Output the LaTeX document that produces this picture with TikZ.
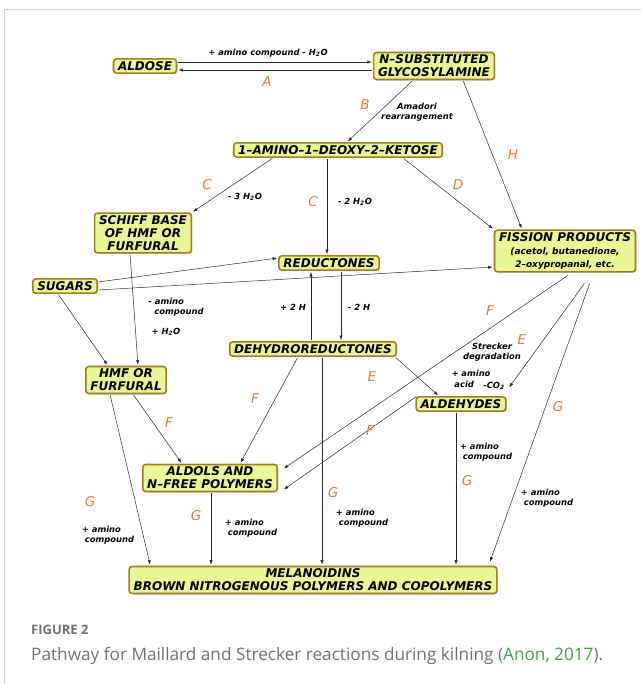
\documentclass[tikz,border=0pt]{standalone}
\usepackage{fontspec}
\usepackage{xcolor}
\usepackage{tikz}
\usetikzlibrary{arrows.meta,shadows}
\setmainfont{Open Sans}
\newfontfamily\dvs{DejaVu Sans}[BoldFont={DejaVu Sans Bold},ItalicFont={DejaVu Sans Oblique},BoldItalicFont={DejaVu Sans Bold Oblique}]
\definecolor{boxfill}{RGB}{234,246,150}
\definecolor{boxline}{RGB}{160,125,35}
\definecolor{stageorange}{RGB}{240,118,45}
\definecolor{capgray}{RGB}{112,112,112}
\definecolor{capgreen}{RGB}{60,165,60}
\newcommand\fisfont{\fontsize{9}{10.5}\selectfont}

\begin{document}
\begin{tikzpicture}[x=1pt,y=-1pt,
  box/.style={draw=boxline,fill=boxfill,line width=1.6pt,rounded corners=3pt,inner xsep=4.5pt,inner ysep=2.6pt,align=center,
    font=\dvs\bfseries\itshape\fontsize{12}{12.8}\selectfont,
    drop shadow={opacity=0.25,shadow xshift=1pt,shadow yshift=-1pt}},
  arr/.style={-{Latex[length=4.5pt,width=3.2pt]},line width=0.5pt,draw=black!85,shorten >=1pt,shorten <=1pt},
  lbl/.style={font=\dvs\bfseries\itshape\fontsize{8.4}{10.5}\selectfont,align=left,inner sep=0pt},
  stage/.style={text=stageorange,font=\dvs\itshape\fontsize{13.5}{14}\selectfont,inner sep=0pt}]
  \useasboundingbox (0,0) rectangle (641,684);
  \draw[black!20,line width=1pt] (4,684) -- (4,10) -- (641,10);

  \node[box] (ald) at (145,66) {ALDOSE};
  \node[box] (gly) at (434,66) {N–SUBSTITUTED\\GLYCOSYLAMINE};
  \node[box] (amk) at (338,150) {1–AMINO–1–DEOXY–2–KETOSE};
  \node[box] (sch) at (143,233) {SCHIFF BASE\\OF HMF OR\\FURFURAL};
  \node[box] (red) at (329,263) {REDUCTONES};
  \node[box] (fis) at (565,251) {FISSION PRODUCTS\\\fisfont (acetol, butanedione,\\\fisfont 2–oxypropanal, etc.};
  \node[box] (sug) at (65,286) {SUGARS};
  \node[box] (dhr) at (313,349) {DEHYDROREDUCTONES};
  \node[box] (hmf) at (126,380) {HMF OR\\FURFURAL};
  \node[box] (alh) at (461,404) {ALDEHYDES};
  \node[box] (aln) at (210,478) {ALDOLS AND\\N–FREE POLYMERS};
  \node[box] (mel) at (313,580) {MELANOIDINS\\BROWN NITROGENOUS POLYMERS AND COPOLYMERS};

  \draw[arr] ([yshift=4pt]ald.east) -- ([yshift=4pt]gly.west);
  \draw[arr] ([yshift=-4pt]gly.west) -- ([yshift=-4pt]ald.east);
  \draw[arr] ([xshift=-21pt]gly.south) -- ([xshift=9pt]amk.north);
  \draw[arr] ([xshift=29pt]gly.south) -- ([xshift=-43pt]fis.north);
  \draw[arr] ([xshift=-65pt]amk.south) -- (sch.north east);
  \draw[arr] ([xshift=-11pt]amk.south) -- ([xshift=-2pt]red.north);
  \draw[arr] ([xshift=65pt]amk.south) -- (fis.north west);
  \draw[arr] ([yshift=4pt]sug.east) -- ([yshift=5pt]red.west);
  \draw[arr] ([yshift=-4pt]sug.east) -- ([yshift=-16pt]fis.west);
  \draw[arr] ([xshift=-13pt]sch.south) -- ([xshift=12pt]hmf.north);
  \draw[arr] ([xshift=-7pt]sug.south) -- ([xshift=-18pt]hmf.north);
  \draw[arr] ([xshift=-2pt]dhr.north) -- ([xshift=-18pt]red.south);
  \draw[arr] ([xshift=12pt]red.south) -- ([xshift=28pt]dhr.north);
  \draw[arr] ([xshift=-15pt]dhr.south) -- ([xshift=30pt]aln.north);
  \draw[arr] ([xshift=9pt]dhr.south) -- ([xshift=9pt]mel.north);
  \draw[arr] ([xshift=-2pt]dhr.south east) -- ([xshift=-22pt]alh.north);
  \draw[arr] ([xshift=4pt,yshift=-2pt]fis.south) -- ([xshift=5pt,yshift=9pt]aln.east);
  \draw[arr] ([xshift=20pt,yshift=-10pt]fis.south) -- ([xshift=2pt,yshift=8pt]alh.north east);
  \draw[arr] ([xshift=25pt,yshift=-10pt]fis.south) -- ([xshift=-8pt,yshift=3pt]mel.north east);
  \draw[arr] ([xshift=-44pt]alh.north) -- ([xshift=5pt,yshift=-12pt]aln.east);
  \draw[arr] ([xshift=-5pt]alh.south) -- ([xshift=143pt]mel.north);
  \draw[arr] ([xshift=7pt]hmf.south) -- ([xshift=-28pt]aln.north);
  \draw[arr] ([xshift=-16pt]hmf.south) -- ([xshift=22pt]mel.north west);
  \draw[arr] ([xshift=1pt]aln.south) -- ([xshift=-102pt]mel.north);

  \node[lbl] (tA) at (268,53) {+ amino compound - H\textsubscript{2}O};
  \node[lbl,align=center] (tB) at (417,112) {Amadori\\rearrangement};
  \node[lbl] (tC1) at (245,197) {- 3 H\textsubscript{2}O};
  \node[lbl] (tC2) at (355,202) {- 2 H\textsubscript{2}O};
  \node[lbl] (tS) at (176,307) {- amino\\\ \ compound};
  \node[lbl] (tW) at (166,332) {+ H\textsubscript{2}O};
  \node[lbl] (tP) at (293,307) {+ 2 H};
  \node[lbl] (tM) at (359,307) {- 2 H};
  \node[lbl,align=center] (tSD) at (492,352) {Strecker\\degradation};
  \node[lbl] (tAA) at (471,379) {+ amino\\\ acid};
  \node[lbl] (tCO) at (494,386) {-CO\textsubscript{2}};
  \node[lbl] (tG1) at (108,535) {+ amino\\\ compound};
  \node[lbl] (tG2) at (251,528) {+ amino\\\ compound};
  \node[lbl] (tG3) at (362,518) {+ amino\\\ compound};
  \node[lbl] (tG4) at (486,452) {+ amino\\\ compound};
  \node[lbl] (tG5) at (547,498) {+ amino\\\ compound};

  \node[stage] (lA) at (267,82) {A};
  \node[stage] (lB) at (365,105) {B};
  \node[stage] (lC1) at (207,185) {C};
  \node[stage] (lC2) at (313,202) {C};
  \node[stage] (lD) at (458,185) {D};
  \node[stage] (lH) at (513,155) {H};
  \node[stage] (lF1) at (255,399) {F};
  \node[stage] (lF2) at (490,311) {F};
  \node[stage] (lF3) at (370,431) {F};
  \node[stage] (lF4) at (169,423) {F};
  \node[stage] (lE1) at (372,377) {E};
  \node[stage] (lE2) at (522,340) {E};
  \node[stage] (lG1) at (90,502) {G};
  \node[stage] (lG2) at (196,516) {G};
  \node[stage] (lG3) at (333,493) {G};
  \node[stage] (lG4) at (467,481) {G};
  \node[stage] (lG5) at (558,407) {G};

  \node[anchor=base west,inner sep=0pt,text=capgray,font=\bfseries\fontsize{13}{15}\selectfont] (fig) at (31,634) {FIGURE 2};
  \node[anchor=base west,inner sep=0pt,text=capgray,font=\fontsize{17.2}{20}\selectfont] (cap) at (31,660) {Pathway for Maillard and Strecker reactions during kilning (\textcolor{capgreen}{Anon, 2017}).};
\end{tikzpicture}
\end{document}
